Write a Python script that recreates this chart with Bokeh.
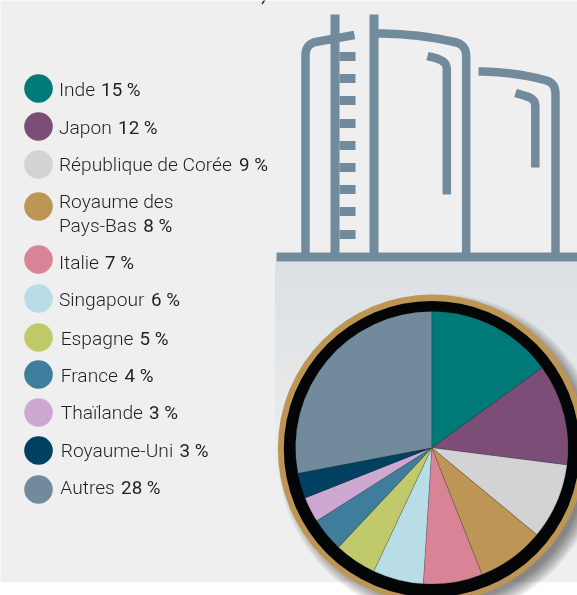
import math
from bokeh.plotting import figure
from bokeh.embed import file_html
from bokeh.resources import INLINE
from bokeh.core.properties import value

# ---- data ----
countries = ["Inde", "Japon", "République de Corée", "Royaume des\nPays-Bas", "Italie", "Singapour",
             "Espagne", "France", "Thaïlande", "Royaume-Uni", "Autres"]
shares = [15, 12, 9, 8, 7, 6, 5, 4, 3, 3, 28]
colors = ["#007A78", "#7C4D77", "#D3D2D5", "#BD9655", "#D98496", "#B8DDE6",
          "#C1CA6A", "#3E7E9C", "#CDA8D1", "#004060", "#728B9C"]

# ---- layout (pixels in the page) ----
W, H = 577, 595
dot_y = [88, 126, 164, 206, 259, 298, 337, 374, 412, 450, 489]
base_y = [96, 134, 171, 232, 269, 306, 345, 382, 419, 457, 494]
label_x = [58.4, 58.4, 58.4, 58.4, 58.4, 58.4, 60.2, 60.2, 60.2, 60.2, 59.8]
pct_x = [100.6, 117.6, 238.6, 142.8, 104.6, 150.6, 139, 124, 148.6, 179, 120.6]
CX, CY, R = 431.3, 447.3, 136.3
TANK = "#728B9C"
TEXT_SHIFT = 7

def Y(y):
    return H - y

p = figure(width=W, height=H, x_range=(0, W), y_range=(0, H), x_axis_type=None, y_axis_type=None,
           toolbar_location=None, output_backend="svg", min_border=0, outline_line_color=None,
           background_fill_color="#FFFFFF", border_fill_color="#FFFFFF",
           styles={"position": "fixed", "left": "0", "top": "0"})
p.grid.visible = False

# panel
p.quad(left=[-10], right=[W + 10], top=[Y(-10)], bottom=[Y(581.5)], fill_color="#EFEFEF", line_color=None)

# gradient under the tanks (each band covers everything below it)
steps = 48
for i in range(steps):
    t = i / (steps - 1)
    c = tuple(round(a + (b - a) * t) for a, b in zip((0xDC, 0xE0, 0xE3), (0xEF, 0xEF, 0xEF)))
    y0 = 261 + i * 5
    p.quad(left=[275], right=[W + 10], top=[Y(y0)], bottom=[Y(581.5)], fill_color="#%02X%02X%02X" % c, line_color=None)

# tanks
def bez(p0, p1, p2, p3, n=14):
    out = []
    for k in range(n + 1):
        t = k / n
        m = 1 - t
        out.append(tuple(m**3 * a + 3 * m * m * t * b + 3 * m * t * t * c + t**3 * d
                         for a, b, c, d in zip(p0, p1, p2, p3)))
    return out

def stroke(pts, w=8.5):
    p.line([a for a, _ in pts], [Y(b) for _, b in pts], line_color=TANK, line_width=w,
           line_join="round", line_cap="butt")

stroke([(305, 255)] + bez((305, 55), (305, 47), (309, 43), (315, 41.5)) + [(354, 34.5)])
stroke([(376, 33)] + bez((376, 33), (405, 33), (430, 36), (456, 42))
       + bez((456, 42), (462, 44), (465.7, 48), (465.7, 56)) + [(465.7, 255)])
stroke(bez((427, 55.5), (432, 57), (435, 57), (440, 59.5))
       + bez((440, 59.5), (444, 61.5), (446.3, 64), (446.3, 69)) + [(446.3, 194)])
stroke([(478, 71)] + bez((478, 71), (500, 71), (525, 74), (546, 80))
       + bez((546, 80), (552, 82), (555, 86), (555, 94)) + [(555, 255)])
stroke(bez((515, 92.5), (520, 94), (524, 95), (528, 96.5))
       + bez((528, 96.5), (533, 98.5), (534.8, 101), (534.8, 107)) + [(534.8, 167)])

p.quad(left=[330, 369], right=[339, 378], top=[Y(14), Y(14)], bottom=[Y(255), Y(255)], fill_color=TANK, line_color=None)
rung_y = [56, 78, 100, 123, 145, 167, 189, 211, 234]
p.quad(left=[339] * 9, right=[355] * 9, top=[Y(v - 4.5) for v in rung_y], bottom=[Y(v + 4.5) for v in rung_y],
       fill_color=TANK, line_color=None)
p.quad(left=[276], right=[W + 10], top=[Y(252)], bottom=[Y(261)], fill_color=TANK, line_color=None)

# shadow of the medallion
for r in range(162, 147, -1):
    p.circle([CX + 8], [Y(CY + 8)], radius=r, fill_color="#000000", fill_alpha=0.035, line_color=None)

# medallion rings
p.circle([CX], [Y(CY + 0.7)], radius=154, fill_color="#BD9655", line_color=None)
p.circle([CX], [Y(CY + 1.2)], radius=148, fill_color="#030506", line_color=None)

# pie
total = sum(shares)
cum = 0
for v, c in zip(shares, colors):
    a0 = math.pi / 2 - 2 * math.pi * cum / total
    cum += v
    a1 = math.pi / 2 - 2 * math.pi * cum / total
    p.wedge([CX], [Y(CY)], radius=R, start_angle=a0, end_angle=a1, direction="clock",
            fill_color=c, line_color="#33383A", line_alpha=0.35, line_width=0.6)

# legend
for name, v, c, dy, by, lx, px in zip(countries, shares, colors, dot_y, base_y, label_x, pct_x):
    p.circle([38], [Y(dy)], radius=14.3, fill_color=c, line_color=None)
    lines = name.split("\n")
    for j, ln in enumerate(lines):
        p.text([lx], [Y(by - TEXT_SHIFT - 24 * (len(lines) - 1 - j))], text=[ln], text_font=value("Roboto Light"),
               text_font_size="19.2px", text_color="#231F20", text_baseline="alphabetic", text_align="left")
    p.text([px], [Y(by - TEXT_SHIFT)], text=[f"{v} %"], text_font=value("Roboto"), text_font_size="18.8px",
           text_color="#231F20", text_baseline="alphabetic", text_align="left")

# cut-off tail of the heading above the crop
p.line([264.5, 261.5], [Y(-1), Y(3.5)], line_color="#333333", line_width=1.6)

open("out.html", "w").write(file_html(p, INLINE))
